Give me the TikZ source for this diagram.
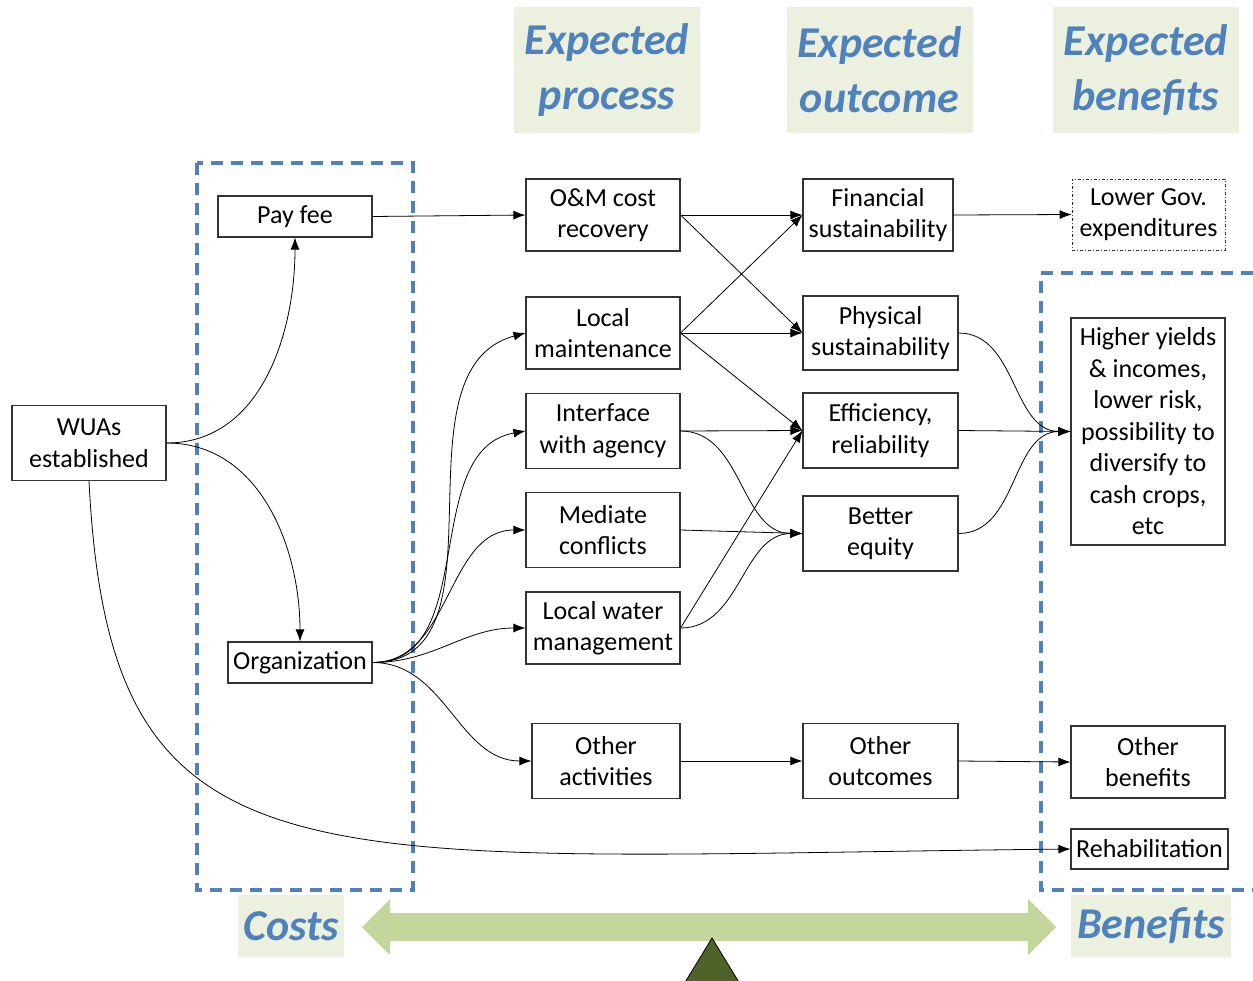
\documentclass[tikz,border=0pt]{standalone}
\usepackage{fontspec}
\setmainfont{Carlito}
\definecolor{myblue}{RGB}{79,129,189}
\definecolor{mybg}{RGB}{235,241,222}
\definecolor{mygreen}{RGB}{195,214,155}
\definecolor{myolive}{RGB}{79,98,40}
\usetikzlibrary{arrows.meta,positioning}

\begin{document}
\begin{tikzpicture}[x=1pt,y=1pt,
        every node/.style={draw=black!80,line width=1.1pt,fill=white,align=center,inner sep=0pt,
          font=\fontsize{26}{31.5}\selectfont},
        bnode/.style={minimum width=154pt,minimum height=74pt},
        snode/.style={minimum height=41pt},
        hnode/.style={draw=none,fill=mybg,text=myblue,font=\fontsize{44}{55}\selectfont\bfseries\itshape,
          minimum width=186pt,minimum height=126pt},
        cnode/.style={draw=none,fill=mybg,text=myblue,font=\fontsize{44}{55}\selectfont\bfseries\itshape,
          minimum height=62pt},
        cbox/.style={draw=myblue,line width=3.5pt,dash pattern=on 12pt off 8pt},
        arr/.style={-{Latex[length=12pt,width=9pt]},line width=0.8pt}
        ]
        \useasboundingbox (0,0) rectangle (1253,-980);

        % the headings
        \node[hnode] (h1) at (607,-70) {Expected\\process};
        \node[hnode] (h2) at (879.5,-70) {Expected\\outcome};
        \node[hnode] (h3) at (1146,-70) {Expected\\benefits};

        % the cost and benefit areas
        \draw[cbox] (197,-163) rectangle (413,-890);
        \draw[cbox] (1253,-273) -- (1041,-273) -- (1041,-890) -- (1253,-890);

        % the balance
        \fill[mygreen] (362,-927) -- (390,-899) -- (390,-913) -- (1028,-913) -- (1028,-899)
          -- (1056,-927) -- (1028,-955) -- (1028,-941) -- (390,-941) -- (390,-955) -- cycle;
        \filldraw[fill=myolive,draw=black,line width=0.8pt] (712,-938) -- (740,-984) -- (684,-984) -- cycle;
        \node[cnode,minimum width=106pt] (hc) at (291,-926) {Costs};
        \node[cnode,minimum width=160pt] (hb) at (1151,-926) {Benefits};

        % the start
        \node[minimum width=154pt,minimum height=75pt] (wua) at (89,-443) {WUAs\\established};
        \node[snode,minimum width=154pt] (pay) at (295,-216.5) {Pay fee};
        \node[snode,minimum width=144pt] (org) at (300,-662.5) {Organization};

        % the process
        \node[bnode,minimum height=72pt] (om) at (603,-215) {O\&M cost\\recovery};
        \node[bnode,minimum height=72pt] (lm) at (603,-333) {Local\\maintenance};
        \node[bnode,minimum height=75pt] (ia) at (603,-431) {Interface\\with agency};
        \node[bnode,minimum height=75pt] (mc) at (603,-530) {Mediate\\conflicts};
        \node[bnode,minimum height=72pt] (lw) at (603,-628) {Local water\\management};
        \node[bnode,minimum width=148pt,minimum height=75pt] (oa) at (606,-761) {Other\\activities};

        % the outcome
        \node[bnode,minimum width=150pt,minimum height=72pt] (fs) at (878,-215) {Financial\\sustainability};
        \node[bnode,minimum width=155pt] (ps) at (880.5,-333) {Physical\\sustainability};
        \node[bnode,minimum width=155pt,minimum height=75pt] (er) at (880.5,-430.5) {Efficiency,\\reliability};
        \node[bnode,minimum width=155pt,minimum height=75pt] (be) at (880.5,-533.5) {Better\\equity};
        \node[bnode,minimum width=155pt,minimum height=75pt] (oo) at (880.5,-761) {Other\\outcomes};

        % the benefits
        \node[bnode,minimum width=153pt,minimum height=71pt,line width=0.7pt,
          dash pattern=on 3pt off 2pt on 1pt off 2pt] (lg) at (1148.5,-214.5) {Lower Gov.\\expenditures};
        \node[bnode,minimum height=227pt] (hy) at (1148,-431.5) {Higher yields\\\& incomes,\\lower risk,\\possibility to\\diversify to\\cash crops,\\etc};
        \node[bnode,minimum height=72pt] (ob) at (1148,-762) {Other\\benefits};
        \node[minimum width=157pt,minimum height=40pt] (rh) at (1149.5,-849) {Rehabilitation};

        % the edges
        \draw[arr] (wua.east) to[out=0,in=-90] (pay.south);
        \draw[arr] (wua.east) to[out=0,in=90] (org.north);
        \draw[arr] (wua.south) .. controls (110,-900) and (300,-857) .. (rh.west);
        \draw[arr] (pay.east) -- (om.west);
        \draw[arr] (org.east) to[out=0,in=195] (lm.west);
        \draw[arr] (org.east) to[out=0,in=190] (ia.west);
        \draw[arr] (org.east) to[out=0,in=180] (mc.west);
        \draw[arr] (org.east) to[out=0,in=180] (lw.west);
        \draw[arr] (org.east) to[out=0,in=180] (oa.west);
        \draw[arr] (om.east) -- (fs.west);
        \draw[arr] (om.east) -- (ps.west);
        \draw[arr] (lm.east) -- (fs.west);
        \draw[arr] (lm.east) -- (ps.west);
        \draw[arr] (lm.east) -- (er.west);
        \draw[arr] (ia.east) -- (er.west);
        \draw[arr] (ia.east) to[out=0,in=180] (be.west);
        \draw[arr] (mc.east) -- (be.west);
        \draw[arr] (lw.east) -- (er.west);
        \draw[arr] (lw.east) to[out=0,in=180] (be.west);
        \draw[arr] (oa.east) -- (oo.west);
        \draw[arr] (fs.east) -- (lg.west);
        \draw[arr] (ps.east) to[out=0,in=180] (hy.west);
        \draw[arr] (er.east) -- (hy.west);
        \draw[arr] (be.east) to[out=0,in=180] (hy.west);
        \draw[arr] (oo.east) -- (ob.west);
\end{tikzpicture}
\end{document}
